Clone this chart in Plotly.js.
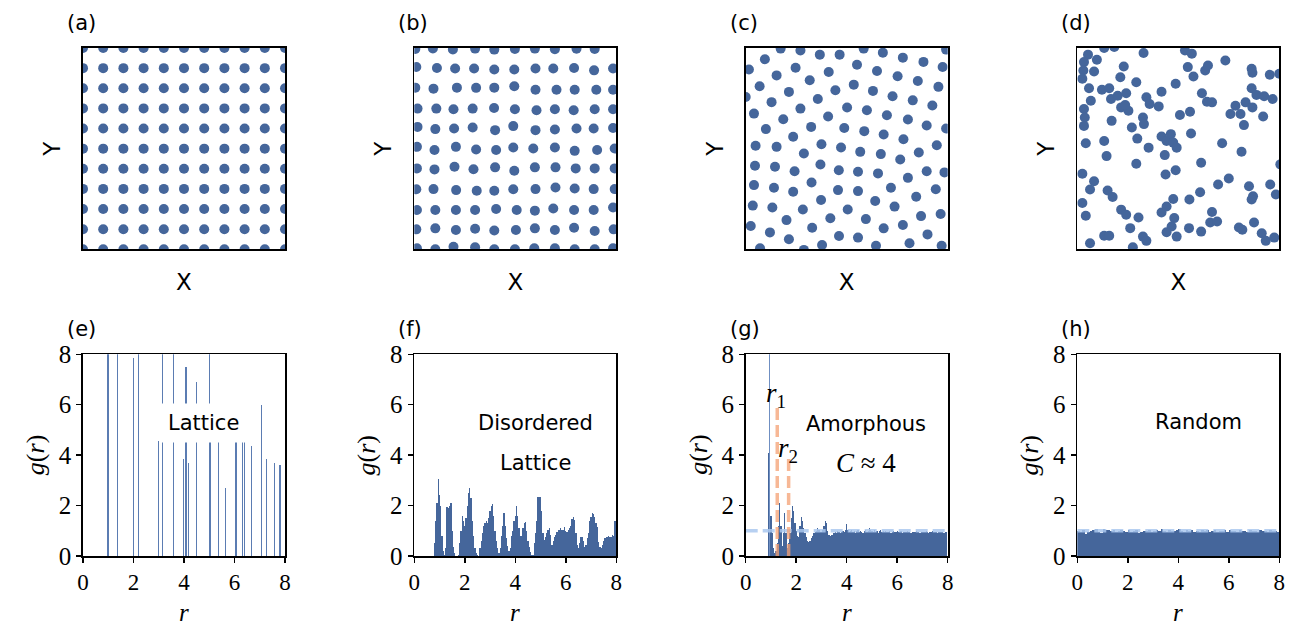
<!DOCTYPE html>
<html>
<head>
<meta charset="utf-8">
<script src="https://cdn.plot.ly/plotly-3.0.1.min.js"></script>
<style>html,body{margin:0;padding:0;background:#fff;}#chart{width:1290px;height:633px;}</style>
</head>
<body>
<div id="chart"></div>
<script>
// ---------------- DATA ----------------
// (a) perfect lattice: column and row positions
const latticeCols = [0,1,2,3,4,5,6,7,8,9,10];
const latticeRows = [0,1,2,3,4,5,6,7,8,9,10];

// (b) disordered lattice points
const disX = [0.05,0.92,1.91,3.01,3.96,4.98,5.97,6.96,8.03,8.93,
  0.10,1.12,2.02,2.96,3.96,4.95,6.00,6.88,7.91,8.90,9.84,
  0.05,0.95,2.11,3.06,3.96,4.95,6.00,7.04,7.94,9.01,9.84,
  0.16,1.09,1.94,2.89,3.95,4.98,6.05,6.96,7.89,8.93,9.84,
  0.16,1.04,1.97,2.89,4.00,4.90,6.00,6.96,8.03,8.88,9.84,
  0.13,1.00,2.06,3.06,4.05,4.90,5.89,6.96,7.94,9.05,9.92,
  0.13,1.00,1.99,2.93,4.00,4.95,5.97,6.99,7.99,8.93,9.92,
  0.10,0.95,2.07,3.09,3.96,4.90,6.00,6.99,7.94,8.88,9.92,
  0.13,1.04,2.06,3.01,4.05,5.07,5.97,6.88,7.91,8.88,9.84,
  0.10,1.04,2.06,3.01,3.96,5.03,5.97,6.96,7.91,8.93,9.87,
  0.13,1.04,1.94,3.01,3.96,4.98,5.94,6.96,7.94,8.93,9.84];
const disY = [9.95,9.98,9.93,9.97,9.92,9.95,9.97,9.94,9.96,9.95,
  9.06,9.01,8.98,8.98,8.93,8.93,8.98,8.98,9.01,8.89,8.98,
  8.03,7.98,8.03,8.02,8.03,8.10,7.93,7.93,7.93,7.93,7.93,
  6.99,6.99,6.96,6.99,7.02,6.96,6.91,6.96,6.91,6.96,6.96,
  6.08,5.97,6.00,6.05,5.92,6.12,5.92,5.95,6.00,6.00,6.03,
  5.09,4.93,5.09,4.96,4.93,5.06,5.01,5.06,4.89,4.93,5.01,
  4.02,3.97,4.10,3.98,4.07,3.90,4.07,4.07,4.02,4.02,4.02,
  2.98,2.99,2.94,2.91,2.91,2.98,2.99,3.07,3.02,2.99,2.99,
  1.95,1.95,1.95,1.95,2.00,1.95,1.92,2.03,1.95,1.95,2.08,
  0.99,1.04,0.96,1.02,0.93,0.96,1.04,0.96,1.07,0.91,0.99,
  0.05,0.00,0.13,0.10,0.00,0.00,0.05,0.05,0.00,0.00,0.05];

// (c) amorphous points
const amoX = [1.73,2.71,3.67,4.65,5.84,6.79,7.78,8.80,9.75,9.92,
  0.95,0.16,2.47,1.53,4.11,5.51,6.50,7.52,8.52,9.54,
  0.69,3.17,2.14,4.44,5.35,6.30,7.27,8.27,9.24,
  0.00,1.28,3.57,2.71,5.02,6.00,6.99,8.03,8.96,9.92,
  0.41,1.86,4.08,3.24,4.88,5.87,6.83,7.81,9.46,8.57,
  1.00,2.35,0.49,1.53,3.75,4.72,5.67,6.69,7.65,
  2.88,0.46,1.45,2.42,3.70,4.61,5.56,6.55,8.96,9.84,8.03,
  0.41,1.40,3.26,2.35,4.57,5.56,7.19,9.41,8.44,
  0.35,1.32,3.73,2.83,5.05,6.41,7.37,5.95,8.68,9.65,
  0.25,2.02,4.19,3.29,6.83,7.78,9.00,
  1.20,2.14,4.62,5.56,8.11,0.71,2.88,3.78,6.45,9.70];
const amoY = [9.97,9.88,9.67,9.67,9.97,9.77,9.52,9.31,9.06,9.92,
  9.44,8.93,9.02,8.64,8.81,9.17,8.86,8.60,8.36,8.07,
  8.10,8.40,7.82,7.90,8.18,7.87,7.60,7.40,7.14,
  7.57,7.31,7.47,6.99,7.04,6.91,6.66,6.45,6.15,6.00,
  6.74,6.46,6.60,6.08,6.03,5.87,5.70,5.47,5.17,4.81,
  5.97,5.59,5.14,5.09,5.22,5.06,4.84,4.73,4.46,
  4.76,4.15,4.10,3.88,4.21,3.93,3.85,3.77,3.88,3.82,3.55,
  3.19,3.06,3.32,2.86,2.94,2.89,3.06,2.98,2.61,
  2.17,2.08,2.45,1.98,1.98,2.40,2.12,1.50,1.65,1.75,
  1.16,1.45,1.54,1.07,1.04,1.21,0.74,
  0.84,0.50,0.66,0.58,0.30,0.05,-0.03,0.21,0.18,0.18];

// (d) random points
const rndX = [0.53,0.33,0.97,0.30,0.83,0.25,0.58,1.33,1.83,3.28,2.30,2.13,2.92,1.22,1.58,1.67,2.00,2.42,2.17,2.53,
  2.37,0.67,0.33,0.37,0.33,1.70,2.70,3.25,3.30,3.42,3.58,4.03,4.17,4.87,5.47,5.75,5.33,5.67,6.33,6.47,
  7.33,6.17,6.42,6.67,5.08,5.58,8.63,8.67,9.53,10.0,8.63,8.87,9.25,9.67,7.83,7.58,8.08,8.33,8.67,9.20,
  8.25,5.63,7.17,8.13,4.17,4.42,4.63,4.75,4.92,4.33,3.53,2.97,1.33,1.45,0.42,2.92,4.37,4.87,6.13,10.05,
  0.25,0.83,0.63,1.50,1.75,0.25,0.42,2.17,2.42,3.03,2.62,1.33,1.58,0.63,2.75,3.25,3.42,4.17,4.42,4.75,
  4.80,4.67,4.42,4.92,5.55,6.08,5.53,6.13,6.67,6.58,6.92,6.97,7.50,8.50,8.70,8.63,9.55,9.83,8.00,8.17,
  8.75,9.13,9.33,9.75];
const rndY = [9.67,9.30,9.42,8.88,8.83,8.47,8.00,10.0,10.05,9.75,9.08,8.55,8.30,7.93,8.00,7.47,7.63,7.75,7.05,6.88,
  7.17,7.38,6.97,6.55,6.13,6.38,6.05,6.55,6.22,7.55,7.22,7.10,7.83,8.22,9.05,8.58,9.88,9.72,8.88,9.13,
  9.38,7.75,7.33,7.30,6.67,6.83,8.97,8.77,8.67,8.72,8.00,7.67,7.60,7.47,7.13,6.72,6.72,7.30,7.05,6.60,
  6.17,5.75,5.27,4.85,5.60,5.38,5.72,5.30,5.05,4.68,5.05,5.50,5.38,4.63,5.27,4.25,3.72,3.93,4.30,4.22,
  3.75,3.38,2.97,2.92,2.60,2.30,1.67,1.97,1.72,1.58,1.05,0.67,0.67,0.30,0.10,0.63,0.42,1.83,2.13,2.50,
  1.55,1.13,0.85,0.63,2.47,2.83,1.05,0.88,1.85,1.33,1.38,3.22,3.52,3.13,2.63,2.47,3.22,2.72,1.08,0.97,
  1.33,0.80,0.42,0.58];

// (e) lattice g(r): spike positions and heights (tall ones exceed the axis)
const latR = [0.99,1.36,2.00,2.20,2.99,3.15,3.60,3.99,4.08,4.19,4.48,5.01,5.04,5.37,5.64,6.06,6.32,6.39,6.69,7.07,7.27,7.60,7.80];
const latG = [20,14,7.85,9,4.55,10,9,3.85,7.5,3.7,6.9,8.5,4.9,4.9,2.7,4.9,4.9,4.9,4.35,6.0,3.85,3.7,3.6];

// (f) disordered lattice g(r)
const disR = [0.75,0.80,0.85,0.90,0.95,1.00,1.05,1.10,1.15,1.20,1.25,1.30,1.35,1.40,1.45,1.50,1.55,1.60,1.65,1.70,
  1.75,1.80,1.85,1.90,1.95,2.00,2.05,2.10,2.15,2.20,2.25,2.30,2.35,2.40,2.45,2.50,2.55,2.60,2.65,2.70,
  2.75,2.80,2.85,2.90,2.95,3.00,3.05,3.10,3.15,3.20,3.25,3.30,3.35,3.40,3.45,3.50,3.55,3.60,3.65,3.70,
  3.75,3.80,3.85,3.90,3.95,4.00,4.05,4.10,4.15,4.20,4.25,4.30,4.35,4.40,4.45,4.50,4.55,4.60,4.65,4.70,
  4.75,4.80,4.85,4.90,4.95,5.00,5.05,5.10,5.15,5.20,5.25,5.30,5.35,5.40,5.45,5.50,5.55,5.60,5.65,5.70,
  5.75,5.80,5.85,5.90,5.95,6.00,6.05,6.10,6.15,6.20,6.25,6.30,6.35,6.40,6.45,6.50,6.55,6.60,6.65,6.70,
  6.75,6.80,6.85,6.90,6.95,7.00,7.05,7.10,7.15,7.20,7.25,7.30,7.35,7.40,7.45,7.50,7.55,7.60,7.65,7.70,
  7.75,7.80,7.85,7.90,7.95];
const disG = [0,0.5,1.4,2.1,3.05,2.4,2.0,0.8,0.2,0.05,0.3,1.95,1.9,2.0,2.1,1.0,0.35,0.1,0,0,
  0.05,0.5,1.0,1.6,1.4,1.2,1.5,2.0,2.5,2.7,2.3,1.4,0.8,0.3,0.1,0.02,0,0.3,0.6,0.9,
  1.2,1.3,1.4,1.3,1.5,1.8,2.0,2.05,1.6,1.0,0.6,0.3,0.1,0.3,0.8,1.2,1.7,1.2,0.7,0.4,
  0.2,0.3,0.8,1.0,1.4,1.6,2.0,1.6,1.1,0.8,0.8,1.1,1.3,1.35,1.0,0.6,0.35,0.17,0.05,0.05,
  0.5,0.9,1.4,2.35,2.35,2.35,1.8,0.9,0.63,0.75,0.9,1.05,1.1,0.83,0.44,0.6,0.75,0.85,0.95,1.03,
  1.05,1.1,1.05,1.03,1.16,1.0,0.96,1.05,1.1,1.2,1.45,1.56,1.43,0.9,0.45,0.3,0.5,0.77,0.75,0.6,
  0.37,0.45,0.7,0.9,1.4,1.55,1.69,1.65,1.56,1.3,1.16,0.57,0.35,0.3,0.45,0.6,0.7,0.75,0.77,0.8,
  0.77,0.77,0.83,0.8,1.4];

// (g) amorphous g(r)
const amoR = [0.85,0.90,0.95,1.00,1.05,1.10,1.15,1.20,1.25,1.30,1.35,1.40,1.45,1.50,1.55,1.60,1.65,1.70,1.75,1.80,
  1.85,1.90,1.95,2.00,2.05,2.10,2.15,2.20,2.25,2.30,2.35,2.40,2.45,2.50,2.55,2.60,2.65,2.70,2.75,2.80,
  2.85,2.90,2.95,3.00,3.05,3.10,3.15,3.20,3.25,3.30,3.35,3.40,3.45,3.50,3.55,3.60,3.65,3.70,3.75,3.80,
  3.85,3.90,3.95,4.00,4.05,4.10,4.15,4.20,4.25,4.30,4.35,4.40,4.45,4.50,4.55,4.60,4.65,4.70,4.75,4.80,
  4.85,4.90,4.95,5.00,5.05,5.10,5.15,5.20,5.25,5.30,5.35,5.40,5.45,5.50,5.55,5.60,5.65,5.70,5.75,5.80,
  5.85,5.90,5.95,6.00,6.05,6.10,6.15,6.20,6.25,6.30,6.35,6.40,6.45,6.50,6.55,6.60,6.65,6.70,6.75,6.80,
  6.85,6.90,6.95,7.00,7.05,7.10,7.15,7.20,7.25,7.30,7.35,7.40,7.45,7.50,7.55,7.60,7.65,7.70,7.75,7.80,
  7.85,7.90,7.95];
const amoG = [0,4.1,2.5,1.6,0.9,0.3,0.1,0.2,0.5,1.2,2.1,1.2,0.4,0.9,1.7,0.9,0.3,0.5,0.9,1.5,
  2.0,1.8,1.3,1.0,0.8,0.75,1.2,1.55,1.4,1.1,0.9,0.75,0.6,0.55,0.6,0.7,0.8,0.9,0.95,1.0,
  1.1,1.05,0.95,0.95,1.05,1.2,1.4,1.3,1.0,0.85,0.8,0.85,0.85,0.9,0.95,0.9,1.0,0.95,0.9,0.95,
  1.0,0.95,1.05,1.25,1.05,0.95,1.0,1.05,0.95,1.0,0.9,1.0,1.05,0.95,1.0,0.95,0.9,1.0,1.05,0.95,
  1.0,1.1,1.05,1.0,0.95,1.05,0.95,1.0,0.9,1.0,1.05,0.95,1.0,0.95,1.0,0.97,0.95,1.0,0.93,0.97,
  1.0,0.95,0.97,1.0,0.95,0.97,1.0,0.93,0.95,0.97,0.95,1.0,0.95,0.97,0.93,0.95,0.97,0.95,1.0,0.95,
  0.97,0.93,0.97,0.95,0.97,0.95,0.98,0.95,0.93,0.97,0.95,0.98,0.95,0.97,0.95,0.93,0.96,0.95,0.97,0.95,
  0.93,0.96,0.95];
const amoSpikeR = [0.93];
const amoSpikeG = [12];
const r1 = 1.25, r1Top = 5.9;
const r2 = 1.70, r2Top = 4.0;

// (h) random g(r)
const rndR = [0.05,0.15,0.25,0.35,0.45,0.55,0.65,0.75,0.85,0.95,1.05,1.15,1.25,1.35,1.45,1.55,1.65,1.75,1.85,1.95,
  2.05,2.15,2.25,2.35,2.45,2.55,2.65,2.75,2.85,2.95,3.05,3.15,3.25,3.35,3.45,3.55,3.65,3.75,3.85,3.95,
  4.05,4.15,4.25,4.35,4.45,4.55,4.65,4.75,4.85,4.95,5.05,5.15,5.25,5.35,5.45,5.55,5.65,5.75,5.85,5.95,
  6.05,6.15,6.25,6.35,6.45,6.55,6.65,6.75,6.85,6.95,7.05,7.15,7.25,7.35,7.45,7.55,7.65,7.75,7.85,7.95];
const rndG = [0.98,0.95,1.02,0.88,0.97,1.0,1.05,1.07,0.97,0.93,1.08,1.02,1.05,0.98,1.02,0.97,1.0,1.03,0.98,0.95,
  1.02,0.97,1.0,1.03,0.92,0.97,1.0,0.98,1.02,0.97,1.0,1.02,0.98,1.07,1.0,0.97,1.03,0.98,1.0,1.05,
  1.08,1.0,0.97,1.02,0.98,1.03,0.97,1.0,0.95,1.02,0.98,1.03,0.97,1.0,1.02,0.97,1.0,0.98,1.03,0.97,
  1.02,0.98,1.0,0.97,1.02,0.98,1.0,0.97,1.03,0.98,1.0,0.97,1.02,0.98,1.0,0.97,1.02,0.98,1.0,0.97];
const idealLevel = 1;

// tick labels
const gTicks = [0,2,4,6,8];
const panelLabels = ['(a)','(b)','(c)','(d)','(e)','(f)','(g)','(h)'];

// ---------------- STYLE ----------------
const BLUE = '#45669b';
const SANS = 'DejaVu Sans';
const SERIF = 'Liberation Serif';
const left = [83, 414.3, 745.7, 1077.3];
const W = 202, PW = 1290, PH = 633;
const topDom = [1 - 249.3/PH, 1 - 48/PH];
const botDom = [1 - 556/PH, 1 - 354.3/PH];

// lattice grid from listed columns/rows
const latX = [], latY = [];
latticeRows.forEach(yv => latticeCols.forEach(xv => { latX.push(xv); latY.push(yv); }));

const traces = [];
const dot = {size: 10, color: BLUE};
traces.push({type:'scatter', mode:'markers', x: latX, y: latY, xaxis:'x', yaxis:'y', marker: dot});
traces.push({type:'scatter', mode:'markers', x: disX, y: disY, xaxis:'x2', yaxis:'y2', marker: dot});
traces.push({type:'scatter', mode:'markers', x: amoX, y: amoY, xaxis:'x3', yaxis:'y3', marker: dot});
traces.push({type:'scatter', mode:'markers', x: rndX, y: rndY, xaxis:'x4', yaxis:'y4', marker: dot});

traces.push({type:'bar', x: latR, y: latG, width: 0.045, xaxis:'x5', yaxis:'y5', marker:{color:'#5b7cb2', line:{width:0}}});
traces.push({type:'bar', x: disR, y: disG, width: 0.05, xaxis:'x6', yaxis:'y6', marker:{color: BLUE, line:{width:0}}});
traces.push({type:'bar', x: amoR, y: amoG, width: 0.05, xaxis:'x7', yaxis:'y7', marker:{color: BLUE, line:{width:0}}});
traces.push({type:'bar', x: amoSpikeR, y: amoSpikeG, width: 0.04, xaxis:'x7', yaxis:'y7', marker:{color:'#6f8fc2', line:{width:0}}});
const blueDash = {color:'rgba(170,200,238,0.85)', width: 3.5, dash:'12px,5px'};
const orangeDash = {color:'rgba(244,160,115,0.75)', width: 3.5, dash:'12px,5px'};
traces.push({type:'scatter', mode:'lines', x:[0,8], y:[idealLevel, idealLevel], xaxis:'x7', yaxis:'y7', line: blueDash});
traces.push({type:'scatter', mode:'lines', x:[r1,r1], y:[0,r1Top], xaxis:'x7', yaxis:'y7', line: orangeDash});
traces.push({type:'scatter', mode:'lines', x:[r2,r2], y:[0,r2Top], xaxis:'x7', yaxis:'y7', line: orangeDash});
traces.push({type:'bar', x: rndR, y: rndG, width: 0.1, xaxis:'x8', yaxis:'y8', marker:{color: BLUE, line:{width:0}}});
traces.push({type:'scatter', mode:'lines', x:[0,8], y:[idealLevel, idealLevel], xaxis:'x8', yaxis:'y8', line: blueDash});

const layout = {
  width: PW, height: PH, margin:{l:0,r:0,t:0,b:0},
  paper_bgcolor:'white', plot_bgcolor:'white',
  font:{family: SERIF, size: 24, color:'black'},
  showlegend:false, hovermode:false, barmode:'overlay', bargap:0,
  annotations: []
};

const topRanges = [[0,10],[0,10],[0,10],[0,10]];
for (let i = 0; i < 4; i++) {
  const xi = i+1, yi = i+1;
  const dom = [left[i]/PW, (left[i]+W)/PW];
  layout['xaxis'+(xi===1?'':xi)] = {
    domain: dom, range: topRanges[i], anchor: 'y'+(yi===1?'':yi),
    showticklabels:false, ticks:'', showgrid:false, zeroline:false,
    showline:true, mirror:true, linecolor:'black', linewidth:1.8,
    title:{text:'X', font:{family:SANS, size:23, color:'black'}, standoff: 24}
  };
  layout['yaxis'+(yi===1?'':yi)] = {
    domain: topDom, range: topRanges[i], anchor: 'x'+(xi===1?'':xi),
    showticklabels:false, ticks:'', showgrid:false, zeroline:false,
    showline:true, mirror:true, linecolor:'black', linewidth:1.8,
    title:{text:'Y', font:{family:SANS, size:23, color:'black'}, standoff: 14}
  };
}
for (let i = 0; i < 4; i++) {
  const n = i+5;
  const dom = [left[i]/PW, (left[i]+W)/PW];
  layout['xaxis'+n] = {
    domain: dom, range:[0,8], anchor:'y'+n,
    tickmode:'array', tickvals: gTicks, ticktext: gTicks.map(String), ticks:'outside', ticklen:5, tickwidth:1.5, tickcolor:'black',
    tickfont:{family:SERIF, size:23, color:'black'},
    showgrid:false, zeroline:false, showline:true, mirror:true, linecolor:'black', linewidth:1.8
  };
  layout['yaxis'+n] = {
    domain: botDom, range:[0,8], anchor:'x'+n,
    tickmode:'array', tickvals: gTicks, ticktext: gTicks.map(String), ticks:'outside', ticklen:5, tickwidth:1.5, tickcolor:'black',
    tickfont:{family:SERIF, size:25, color:'black'},
    showgrid:false, zeroline:false, showline:true, mirror:true, linecolor:'black', linewidth:1.8
  };
  // axis titles of the g(r) panels, placed under / left of each frame
  layout.annotations.push({xref:'x'+n+' domain', yref:'paper', x:0.5, y:1-597/PH, xanchor:'center', yanchor:'top',
    showarrow:false, text:'<i>r</i>', font:{family:SERIF, size:25, color:'black'}});
  layout.annotations.push({xref:'paper', yref:'y'+n+' domain', x:(left[i]-48)/PW, y:0.5, xanchor:'center', yanchor:'middle',
    textangle:-90, showarrow:false, text:'<i>g</i>(<i>r</i>)', font:{family:SERIF, size:26, color:'black'}});
}

// panel labels
for (let i = 0; i < 8; i++) {
  const col = i % 4, row = Math.floor(i/4);
  layout.annotations.push({
    xref:'paper', yref:'paper', x:(left[col]-18)/PW, y: row===0 ? 1-23/PH : 1-329/PH,
    xanchor:'left', yanchor:'middle', showarrow:false, text: panelLabels[i],
    font:{family:SANS, size:21, color:'black'}
  });
}
const ann = (ax, x, y, text, font, extra) => layout.annotations.push(Object.assign({
  xref:'x'+ax, yref:'y'+ax, x, y, text, showarrow:false, xanchor:'center', yanchor:'middle', font
}, extra||{}));
const txt = {family:SANS, size:21, color:'black'};
const mth = {family:SERIF, size:27, color:'black'};
ann(5, 4.78, 5.28, 'Lattice', txt, {bgcolor:'white', borderpad:7});
ann(6, 4.79, 5.26, 'Disordered', txt);
ann(6, 4.79, 3.67, 'Lattice', txt);
ann(7, 4.77, 5.25, 'Amorphous', txt);
ann(7, 4.77, 3.67, '<i>C</i> ≈ 4', mth);
ann(7, 1.21, 6.37, '<i>r</i><sub>1</sub>', mth);
ann(7, 1.67, 4.2, '<i>r</i><sub>2</sub>', mth);
ann(8, 4.78, 5.32, 'Random', txt);

Plotly.newPlot('chart', traces, layout, {staticPlot:true, displayModeBar:false});
</script>
</body>
</html>
